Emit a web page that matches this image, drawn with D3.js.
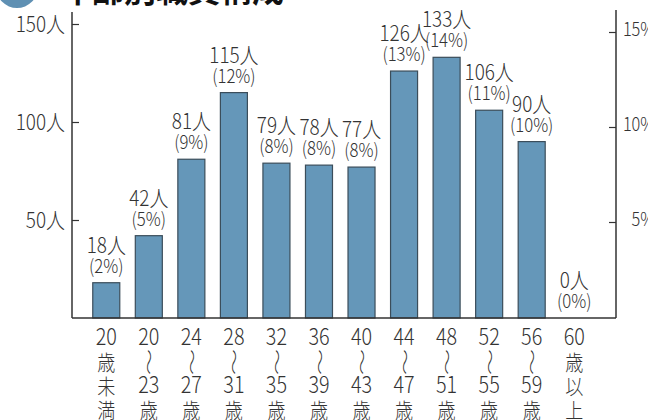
<!DOCTYPE html>
<html lang="ja">
<head>
<meta charset="UTF-8">
<title>年齢別職員構成</title>
<script src="https://cdn.jsdelivr.net/npm/d3@7/dist/d3.min.js"></script>
<style>
  body { margin: 0; background: #fff; }
  text { font-family: "Noto Sans CJK JP", "Noto Sans", sans-serif; fill: #333; font-weight: 300; }
</style>
</head>
<body>
<svg width="648" height="420" id="mainsvg"></svg>
<script>
    // 年齢区分ごとの人数と割合
    const groups = [
        ['20', '歳', '未', '満'],
        ['20', '〜', '23', '歳'],
        ['24', '〜', '27', '歳'],
        ['28', '〜', '31', '歳'],
        ['32', '〜', '35', '歳'],
        ['36', '〜', '39', '歳'],
        ['40', '〜', '43', '歳'],
        ['44', '〜', '47', '歳'],
        ['48', '〜', '51', '歳'],
        ['52', '〜', '55', '歳'],
        ['56', '〜', '59', '歳'],
        ['60', '歳', '以', '上']
    ];
    const counts = [18, 42, 81, 115, 79, 78, 77, 126, 133, 106, 90, 0];
    const percents = [2, 5, 9, 12, 8, 8, 8, 13, 14, 11, 10, 0];
    const leftTicks = [50, 100, 150];
    const rightTicks = [5, 10, 15];

    const svg = d3.select('#mainsvg');
    const barColor = '#6597b9';

    const x = d3.scaleBand()
        .domain(d3.range(counts.length))
        .range([85, 595.5])
        .paddingInner(0.365)
        .paddingOuter(0.1825);
    const y = d3.scaleLinear().domain([0, 150]).range([318, 24]);
    const yPct = d3.scaleLinear().domain([0, 15]).range([317, 32]);

    // タイトル（上が切れている）
    svg.append('circle')
        .attr('cx', 17).attr('cy', -13).attr('r', 21)
        .attr('fill', '#5f90b3');
    svg.append('text')
        .attr('x', 60).attr('y', 2)
        .attr('font-size', 32)
        .style('font-weight', 'bold')
        .style('fill', '#111')
        .text('年齢別職員構成');

    // 棒
    svg.selectAll('rect.bar').data(counts).enter()
        .append('rect')
        .attr('class', 'bar')
        .attr('x', (d, i) => x(i))
        .attr('y', d => y(d))
        .attr('width', x.bandwidth())
        .attr('height', d => y(0) - y(d))
        .attr('fill', barColor)
        .attr('stroke', d => d > 0 ? '#3b4d5a' : 'none')
        .attr('stroke-width', 1.2);

    // 左軸
    const left = svg.append('g').attr('transform', 'translate(72,0)')
        .call(d3.axisRight(y).tickValues(leftTicks).tickSize(7).tickFormat(''));
    left.select('.domain').attr('d', 'M0,12V318').attr('stroke', '#333').attr('stroke-width', 1.5);
    left.selectAll('.tick line').attr('stroke', '#333').attr('stroke-width', 1.2);
    svg.selectAll('text.lt').data(leftTicks).enter()
        .append('text')
        .attr('class', 'lt')
        .attr('text-anchor', 'end')
        .attr('transform', d => `translate(65,${y(d) + 8}) scale(0.86,1)`)
        .attr('font-size', 22)
        .text(d => d + '人');

    // 右軸
    const right = svg.append('g').attr('transform', 'translate(616,0)')
        .call(d3.axisLeft(yPct).tickValues(rightTicks).tickSize(7).tickFormat(''));
    right.select('.domain').attr('d', 'M0,10V318').attr('stroke', '#333').attr('stroke-width', 1.5);
    right.selectAll('.tick line').attr('stroke', '#333').attr('stroke-width', 1.2);
    svg.selectAll('text.rt').data(rightTicks).enter()
        .append('text')
        .attr('class', 'rt')
        .attr('text-anchor', 'end')
        .attr('transform', d => `translate(655,${yPct(d) + 4}) scale(0.86,1)`)
        .attr('font-size', 19)
        .text(d => d + '%');

    // 下の線
    svg.append('line')
        .attr('x1', 72).attr('x2', 616)
        .attr('y1', 318).attr('y2', 318)
        .attr('stroke', '#333').attr('stroke-width', 1.5);

    // 人数と割合ラベル
    const cx = i => x(i) + x.bandwidth() / 2;
    svg.selectAll('text.cnt').data(counts).enter()
        .append('text')
        .attr('class', 'cnt')
        .attr('text-anchor', 'middle')
        .attr('transform', (d, i) => `translate(${cx(i)},${y(d) - 30}) scale(0.86,1)`)
        .attr('font-size', 22)
        .text(d => d + '人');
    svg.selectAll('text.pct').data(percents).enter()
        .append('text')
        .attr('class', 'pct')
        .attr('text-anchor', 'middle')
        .attr('transform', (d, i) => `translate(${cx(i)},${y(counts[i]) - 10}) scale(0.88,1)`)
        .attr('font-size', 19)
        .text(d => '(' + d + '%)');

    // 年齢区分（縦書き）
    groups.forEach((g, i) => {
        g.forEach((s, j) => {
            const yy = 345 + j * 24;
            if (s === '〜') {
                svg.append('text')
                    .attr('text-anchor', 'middle')
                    .attr('transform', `translate(${cx(i)},${yy - 7}) rotate(90) scale(1.2,0.7)`)
                    .attr('dy', '0.35em')
                    .attr('font-size', 22)
                    .text(s);
            } else {
                svg.append('text')
                    .attr('text-anchor', 'middle')
                    .attr('transform', `translate(${cx(i)},${s.match(/\d/) ? yy : yy + 1}) scale(0.86,1)`)
                    .attr('font-size', s.match(/\d/) ? 23 : 21)
                    .text(s);
            }
        });
    });
</script>
</body>
</html>
